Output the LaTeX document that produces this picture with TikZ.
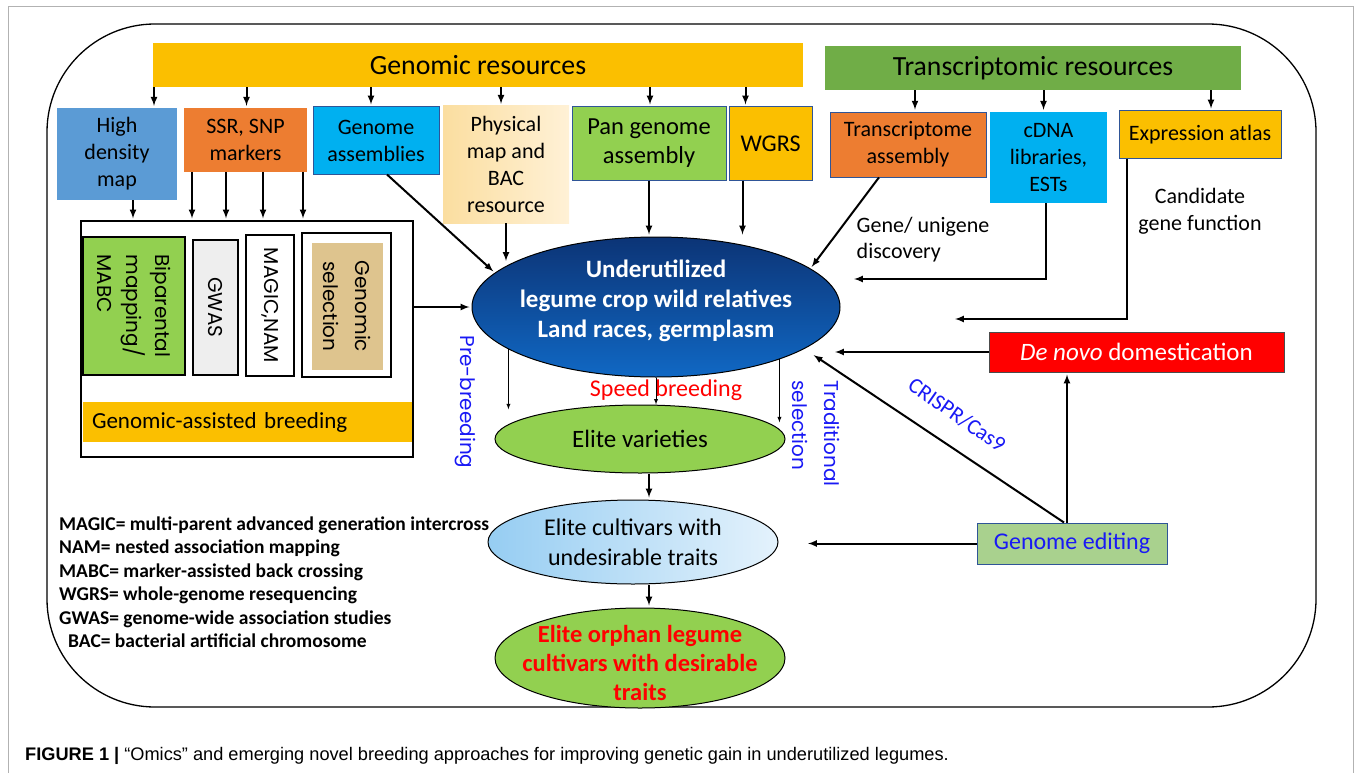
\documentclass[tikz,border=0pt]{standalone}
\usepackage{fontspec}
\setmainfont{Carlito}
\newfontfamily\gothfont{Poppins}
\newfontfamily\capfont{Liberation Sans}
\usetikzlibrary{shapes.geometric}

\definecolor{genogold}{RGB}{251,191,0}
\definecolor{transgreen}{RGB}{112,173,71}
\definecolor{mapblue}{RGB}{91,155,213}
\definecolor{markorange}{RGB}{237,125,49}
\definecolor{asmcyan}{RGB}{0,176,240}
\definecolor{leafgreen}{RGB}{146,208,80}
\definecolor{editgreen}{RGB}{169,209,142}
\definecolor{edgeblue}{RGB}{47,85,151}
\definecolor{labelblue}{RGB}{25,25,245}
\definecolor{papertan}{RGB}{222,196,142}
\definecolor{physleft}{RGB}{251,222,160}
\definecolor{physright}{RGB}{255,241,214}
\definecolor{coretop}{RGB}{12,52,118}
\definecolor{corebottom}{RGB}{16,104,196}
\definecolor{cultleft}{RGB}{150,205,242}
\definecolor{cultright}{RGB}{228,242,252}

\newcommand{\fsz}[2]{\fontsize{#1}{#2}\selectfont}

\begin{document}
\begin{tikzpicture}[x=1pt, y=-1pt, >=latex,
    resbox/.style={align=center, inner sep=0pt, font=\fsz{22}{27}},
    arr/.style={->, line width=2pt, shorten >=2pt},
    thinarr/.style={->, line width=0.9pt},
    blob/.style={ellipse, draw, line width=1pt, inner sep=-25pt, align=center},
    col/.style={draw, line width=1.1pt, rotate=-90, inner sep=0pt, align=center, font=\gothfont\fsz{20}{29}},
    tag/.style={text=labelblue, font=\gothfont\fsz{20}{32}}]
  \useasboundingbox (0,0) rectangle (1356,773);

  % frames
  \draw[gray!60, line width=1pt] (8,773) -- (8,7) -- (1353,7) -- (1353,773);
  \draw[line width=1.3pt, rounded corners=108pt] (47,24) rectangle (1316,707);

  % resource bars
  \node[resbox, fill=genogold, minimum width=650pt, minimum height=44pt, font=\fsz{27.8}{30}] (genres) at (478,65) {Genomic resources};
  \node[resbox, fill=transgreen, minimum width=416pt, minimum height=44pt, font=\fsz{27.7}{30}] (trres) at (1033,68) {Transcriptomic resources};

  % genomic boxes
  \node[resbox, fill=mapblue, minimum width=120pt, minimum height=92pt] (hdm) at (117,154) {High\\density\\map};
  \node[resbox, fill=markorange, minimum width=123pt, minimum height=64pt] (ssr) at (245.5,140) {SSR, SNP\\markers};
  \node[resbox, fill=asmcyan, draw=edgeblue, line width=1pt, minimum width=126pt, minimum height=67pt] (gasm) at (376,140.5) {Genome\\assemblies};
  \node[resbox, left color=physleft, right color=physright, minimum width=126pt, minimum height=117pt] (phys) at (506,164.5) {Physical\\map and\\BAC\\resource};
  \node[resbox, fill=leafgreen, draw=edgeblue, line width=1pt, minimum width=154pt, minimum height=73pt, font=\fsz{24.5}{29}] (pan) at (649,143.5) {Pan genome\\assembly};
  \node[resbox, fill=genogold, draw=edgeblue, line width=1pt, minimum width=83pt, minimum height=73pt, font=\fsz{24}{29}] (wgrs) at (770.5,143.5) {WGRS};

  % transcriptomic boxes
  \node[resbox, fill=markorange, draw=edgeblue, line width=0.8pt, minimum width=156pt, minimum height=65pt] (trasm) at (908,144.5) {Transcriptome\\assembly};
  \node[resbox, fill=asmcyan, minimum width=117pt, minimum height=91pt] (cdna) at (1048.5,157.5) {cDNA\\libraries,\\ESTs};
  \node[resbox, fill=genogold, draw=edgeblue, line width=1pt, minimum width=162pt, minimum height=47pt] (expr) at (1200,134.5) {Expression atlas};

  \foreach \b/\s in {hdm/37, ssr/1, gasm/-5, phys/-5, pan/1, wgrs/-25}
    \draw[arr] ([xshift=\s pt]\b.north |- genres.south) -- ([xshift=\s pt]\b.north);
  \foreach \b/\s in {trasm/7, cdna/-5, expr/11}
    \draw[arr] ([xshift=\s pt]\b.north |- trres.south) -- ([xshift=\s pt]\b.north);

  % genomic-assisted breeding
  \node[draw, line width=1.2pt, minimum width=332pt, minimum height=236pt] (gab) at (247,339) {};
  \node[col, fill=leafgreen, minimum width=138pt, minimum height=102pt, align=left] (bip) at (134,306) {Biparental\\mapping/\\MABC};
  \node[col, fill=gray!13, minimum width=135pt, minimum height=45pt] (gwas) at (215.5,307.5) {GWAS};
  \node[col, fill=white, minimum width=141pt, minimum height=48pt] (magic) at (270,305.5) {MAGIC,NAM};
  \node[col, minimum width=144pt, minimum height=89pt] (gsel) at (346.5,305) {};
  \node[col, draw=none, fill=papertan, minimum width=127pt, minimum height=71pt, font=\gothfont\fsz{20}{32}] (gseltxt) at (347.5,306.5) {Genomic\\selection};
  \node[fill=genogold, minimum width=329pt, minimum height=40pt, text width=311pt, inner sep=0pt, align=left, font=\fsz{23}{27}] (gabbar) at (247.5,422) {Genomic-assisted breeding};

  \draw[arr] ([xshift=16pt]hdm.south) -- ([xshift=16pt]hdm.south |- gab.north);
  \foreach \s in {-53.5,-19.5,17.5,57.5}
    \draw[arr] ([xshift=\s pt]ssr.south) -- ([xshift=\s pt]ssr.south |- gab.north);

  % central flow
  \node[blob, top color=coretop, bottom color=corebottom, minimum width=368pt, minimum height=140pt, text depth=16pt, text=white, font=\bfseries\fsz{25}{30}] (core) at (656,307) {Underutilized\\legume crop wild relatives\\Land races, germplasm};
  \node[blob, fill=leafgreen, minimum width=290pt, minimum height=68pt, font=\fsz{25}{30}] (vr) at (640,439) {Elite varieties};
  \node[blob, left color=cultleft, right color=cultright, minimum width=290pt, minimum height=84pt, font=\fsz{24}{30}] (cv) at (633,542) {Elite cultivars with\\undesirable traits};
  \node[blob, fill=leafgreen, minimum width=290pt, minimum height=100pt, text height=86pt, text=red, font=\bfseries\fsz{24.5}{29}] (orph) at (640,658) {Elite orphan legume\\cultivars with desirable\\traits};

  \node[fill=red, draw=black!70, line width=1pt, minimum width=295pt, minimum height=40pt, text=white, font=\fsz{25}{30}] (dn) at (1136.5,352) {\textit{De novo} domestication};
  \node[fill=editgreen, draw=edgeblue, line width=1pt, minimum width=190pt, minimum height=41pt, text=labelblue, font=\fsz{24}{28}] (ge) at (1072,543.5) {Genome editing};

  \coordinate (cdnaend) at (852,279);
  \coordinate (exprend) at (953,319);
  \coordinate (dnend) at (833,352);
  \coordinate (crend) at (812,354);
  \coordinate (cvend) at (806,543.5);

  \draw[arr] (gab.east |- core.west) -- (core.west);
  \draw[arr] ([xshift=11pt]gasm.south) -- (core.168);
  \draw[arr] (phys.south) -- (phys.south |- core.163);
  \draw[arr] (pan.south) -- (pan.south |- core.north);
  \draw[arr] ([xshift=-28pt]wgrs.south) -- ([xshift=-28pt]wgrs.south |- core.north);
  \draw[arr] ([xshift=-29pt]trasm.south) -- (core.14);
  \draw[arr] ([xshift=-3pt]cdna.south) |- (cdnaend);
  \draw[arr] ([xshift=-73pt]expr.south) |- (exprend);
  \draw[arr] (dn.west) -- (dnend);
  \draw[arr] ([xshift=-5pt]ge.north) -- ([xshift=-5pt]ge.north |- dn.south);
  \draw[arr] ([xshift=-8pt]ge.north) -- (crend);
  \draw[arr] (ge.west) -- (cvend);

  \draw[thinarr] (core.196.5) -- ++(0,60);
  \draw[thinarr] (core.south) -- (core.south |- vr.north);
  \draw[thinarr] (core.337.3) -- ++(0,63);
  \draw[arr] ([xshift=9pt]vr.south) -- ([xshift=9pt]vr.south |- cv.north);
  \draw[arr] ([xshift=9pt]vr.south |- cv.south) -- ([xshift=9pt]vr.south |- orph.north);

  % labels
  \node[tag, rotate=-90] (prebr) at (465,402) {Pre-breeding};
  \node[text=red, font=\fsz{24}{28}] (speed) at (666,390) {Speed breeding};
  \node[tag, rotate=-90, align=left] (tradsel) at (816,433.5) {Traditional\\selection};
  \node[align=left, inner sep=0pt, font=\fsz{22}{26}] (genedisc) at (923,240) {Gene/ unigene\\discovery};
  \node[align=center, inner sep=0pt, font=\fsz{22}{27}] (candfn) at (1200,211) {Candidate\\gene function};
  \node[rotate=-35, inner sep=0pt, text=labelblue, font=\fsz{22}{26}] (crispr) at (957,415) {CRISPR/Cas9};

  % abbreviations
  \node[anchor=west, align=left, inner sep=0pt, font=\bfseries\fsz{19.5}{23.5}] (abbr) at (59,582) {MAGIC= multi-parent advanced generation intercross\\NAM= nested association mapping\\MABC= marker-assisted back crossing\\WGRS= whole-genome resequencing\\GWAS= genome-wide association studies\\\hspace*{9pt}BAC= bacterial artificial chromosome};

  % caption
  \node[anchor=west, inner sep=0pt, font=\capfont\fsz{18.2}{22}] (caption) at (25,756) {\textbf{FIGURE 1 |} “Omics” and emerging novel breeding approaches for improving genetic gain in underutilized legumes.};
\end{tikzpicture}
\end{document}
